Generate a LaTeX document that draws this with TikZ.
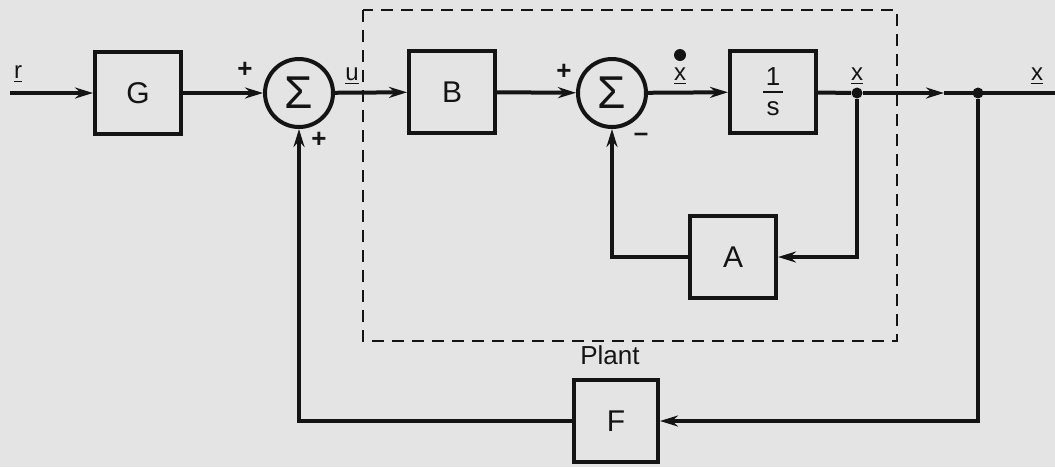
\documentclass[tikz,border=0pt]{standalone}
\usepackage{fontspec}
\setmainfont{Liberation Sans}
\usetikzlibrary{arrows.meta,positioning,calc}
\definecolor{ink}{HTML}{141414}
\definecolor{paper}{HTML}{E4E4E4}
\tikzset{
  blk/.style={draw=ink,line width=2pt,minimum width=43pt,minimum height=41pt,inner sep=0pt,font=\fontsize{15}{15}\selectfont,text=ink},
  sumc/.style={circle,draw=ink,line width=2pt,minimum size=34pt,inner sep=0pt,font=\fontsize{23}{23}\selectfont,text=ink},
  sig/.style={font=\fontsize{12}{12}\selectfont,text=ink,inner sep=0pt},
  sgn/.style={font=\fontsize{13}{13}\selectfont\bfseries,text=ink,inner sep=0pt},
  ar/.style={-{Stealth[length=9pt,width=5.5pt]},draw=ink,line width=2pt},
  ln/.style={draw=ink,line width=2pt},
  jdot/.style={circle,fill=ink,minimum size=5.5pt,inner sep=0pt},
  frame/.style={draw=ink,line width=1.1pt,dash pattern=on 6pt off 4pt},
}
\begin{document}
\begin{tikzpicture}[x=0.5pt,y=-0.5pt]
\fill[paper] (0,0) rectangle (1055,467);
\useasboundingbox (0,0) rectangle (1055,467);
% plant boundary
\draw[frame] (363,10) rectangle (897,341);
\node[sig] at (610,355) {\fontsize{13}{13}\selectfont Plant};
% blocks
\node[blk] (G) at (138,93) {G};
\node[sumc] (sum1) at (299,93) {Σ};
\node[blk] (B) at (452,92) {B};
\node[sumc] (sum2) at (612,93) {Σ};
\node[blk] (inv) at (773,92) {};
\node[sig,font=\fontsize{13}{13}\selectfont] (one) at (773,77) {1};
\node[sig,font=\fontsize{13}{13}\selectfont] (den) at (773,109) {s};
\draw[ln,line width=1.2pt] ([xshift=-5pt]inv.center) -- ([xshift=5pt]inv.center);
\node[blk,minimum width=43pt] (A) at (733,257) {A};
\node[blk,minimum width=42pt] (F) at (616,421) {F};
\coordinate (rin) at (10,93);
\node[jdot] (jx) at (857,93) {};
\coordinate (mid) at (944,93);
\node[jdot] (jy) at (978,93) {};
\coordinate (xout) at (1055,93);
% forward path
\draw[ar] (rin) -- (G);
\draw[ar] (G) -- (sum1);
\draw[ar] (sum1) -- (B);
\draw[ar] (B) -- (sum2);
\draw[ar] (sum2) -- (inv);
\draw[ln] (inv) -- (jx);
\draw[ar] (jx) -- (mid);
\draw[ln] (mid) -- (xout);
% inner loop
\draw[ar] (jx) |- (A.east);
\draw[ar] (A.west) -| (sum2.south);
% outer loop
\draw[ar] (jy) |- (F.east);
\draw[ar] (F.west) -| (sum1.south);
% labels
\node[sig] at (18,74) {\underline{r}};
\node[sig] at (352,76) {\underline{u}};
\node[sig] (xd) at (680,76) {\underline{x}};
\node[jdot,minimum size=6pt] at (680,55) {};
\node[sig] at (857,76) {\underline{x}};
\node[sig] at (1037,76) {\underline{x}};
\node[sgn] at (245,70) {+};
\node[sgn] at (319,140) {+};
\node[sgn] at (564,72) {+};
\node[sgn] at (641,137) {\textendash};
\end{tikzpicture}
\end{document}
